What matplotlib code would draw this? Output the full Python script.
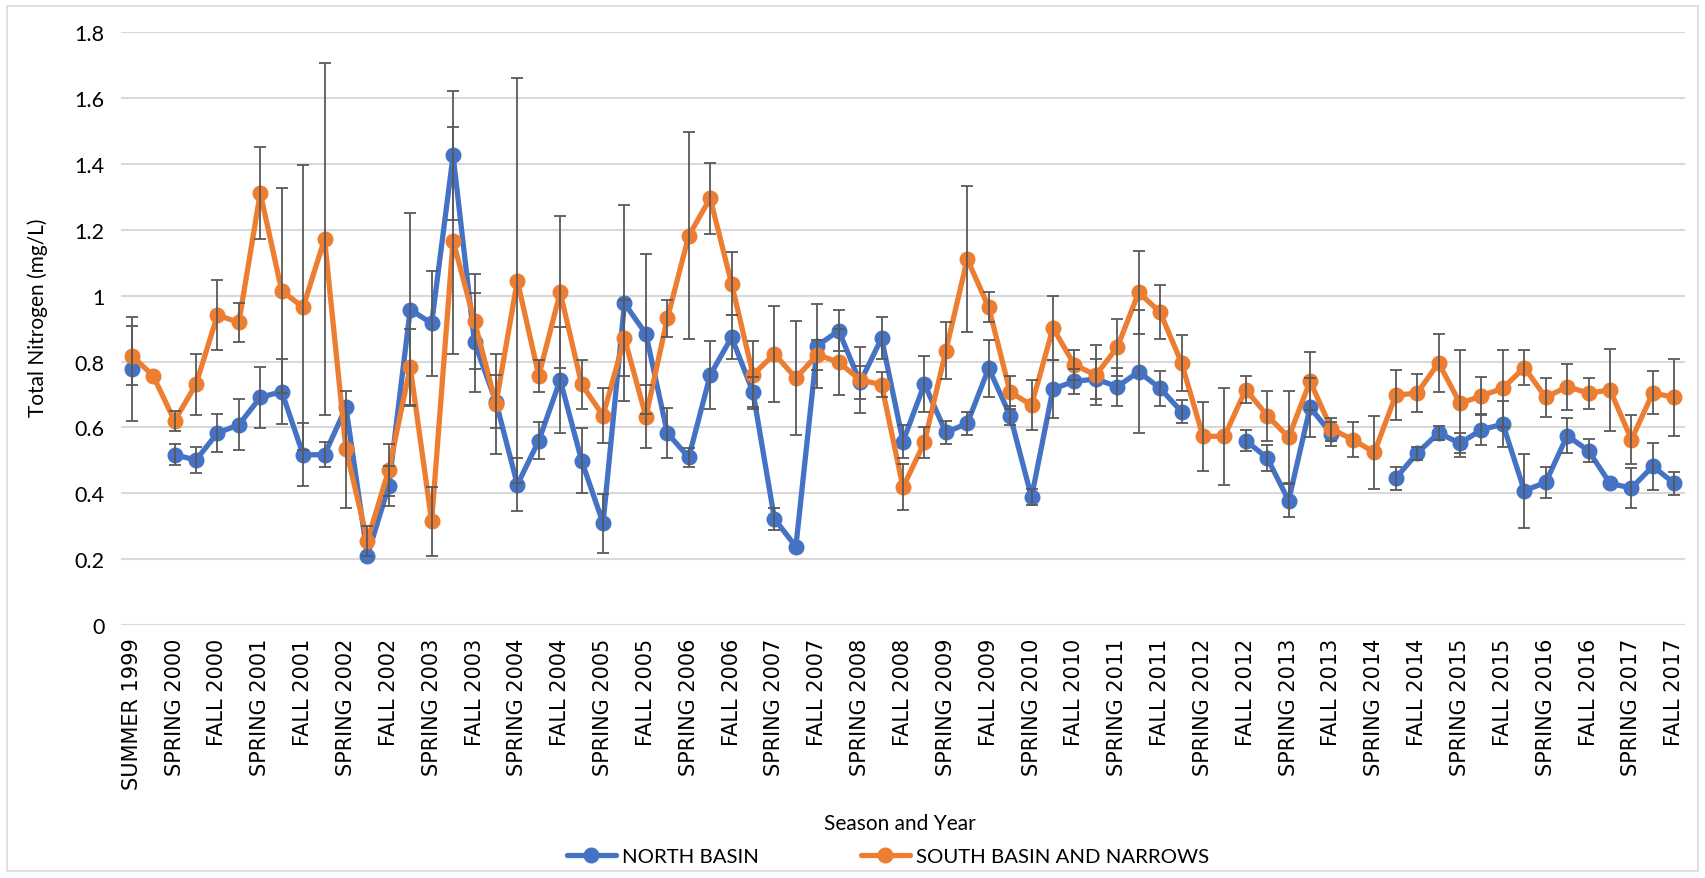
import numpy as np
import matplotlib
matplotlib.use('Agg')
from matplotlib import pyplot as plt
from matplotlib.patches import Rectangle

seasons = [
    'SUMMER 1999', 'FALL 1999',
    'SPRING 2000', 'SUMMER 2000', 'FALL 2000', 'WINTER 2000',
    'SPRING 2001', 'SUMMER 2001', 'FALL 2001', 'WINTER 2001',
    'SPRING 2002', 'SUMMER 2002', 'FALL 2002', 'WINTER 2002',
    'SPRING 2003', 'SUMMER 2003', 'FALL 2003', 'WINTER 2003',
    'SPRING 2004', 'SUMMER 2004', 'FALL 2004', 'WINTER 2004',
    'SPRING 2005', 'SUMMER 2005', 'FALL 2005', 'WINTER 2005',
    'SPRING 2006', 'SUMMER 2006', 'FALL 2006', 'WINTER 2006',
    'SPRING 2007', 'SUMMER 2007', 'FALL 2007', 'WINTER 2007',
    'SPRING 2008', 'SUMMER 2008', 'FALL 2008', 'WINTER 2008',
    'SPRING 2009', 'SUMMER 2009', 'FALL 2009', 'WINTER 2009',
    'SPRING 2010', 'SUMMER 2010', 'FALL 2010', 'WINTER 2010',
    'SPRING 2011', 'SUMMER 2011', 'FALL 2011', 'WINTER 2011',
    'SPRING 2012', 'SUMMER 2012', 'FALL 2012', 'WINTER 2012',
    'SPRING 2013', 'SUMMER 2013', 'FALL 2013', 'WINTER 2013',
    'SPRING 2014', 'SUMMER 2014', 'FALL 2014', 'WINTER 2014',
    'SPRING 2015', 'SUMMER 2015', 'FALL 2015', 'WINTER 2015',
    'SPRING 2016', 'SUMMER 2016', 'FALL 2016', 'WINTER 2016',
    'SPRING 2017', 'SUMMER 2017', 'FALL 2017',
]

nan = np.nan
north = [0.777, nan, 0.517, 0.501, 0.583, 0.608, 0.691, 0.709, 0.517, 0.517,
         0.661, 0.211, 0.423, 0.958, 0.916, 1.426, 0.858, 0.678, 0.426, 0.560,
         0.744, 0.499, 0.309, 0.977, 0.884, 0.583, 0.509, 0.759, 0.874, 0.707,
         0.322, 0.238, 0.848, 0.894, 0.737, 0.871, 0.557, 0.732, 0.585, 0.612,
         0.780, 0.636, 0.388, 0.717, 0.740, 0.747, 0.724, 0.769, 0.719, 0.648,
         nan, nan, 0.560, 0.507, 0.378, 0.661, 0.580, nan, nan, 0.446,
         0.522, 0.583, 0.552, 0.593, 0.610, 0.408, 0.433, 0.575, 0.529, 0.430,
         0.416, 0.482, 0.430]
north_err = [0.158, 0, 0.032, 0.040, 0.058, 0.078, 0.094, 0.100, 0.096, 0.038,
             0, 0, 0.061, 0.292, 0.160, 0.197, 0.150, 0.080, 0.080, 0.056,
             0.160, 0.098, 0.089, 0.298, 0.242, 0.075, 0.030, 0.103, 0.066, 0.046,
             0.034, 0, 0.127, 0.062, 0.050, 0.063, 0.050, 0.086, 0.035, 0.035,
             0.087, 0.030, 0.025, 0.089, 0.038, 0.060, 0.058, 0.187, 0.053, 0.035,
             0, 0, 0.033, 0.040, 0.050, 0.090, 0.035, 0, 0, 0.035,
             0.020, 0.022, 0.030, 0.047, 0.070, 0.112, 0.047, 0.054, 0.035, 0,
             0.060, 0.071, 0.035]

south = [0.818, 0.757, 0.620, 0.731, 0.941, 0.919, 1.312, 1.015, 0.965, 1.172,
         0.534, 0.256, 0.471, 0.783, 0.315, 1.167, 0.922, 0.671, 1.046, 0.757,
         1.010, 0.731, 0.636, 0.871, 0.633, 0.931, 1.182, 1.296, 1.036, 0.760,
         0.823, 0.750, 0.821, 0.798, 0.744, 0.730, 0.418, 0.555, 0.833, 1.111,
         0.965, 0.707, 0.668, 0.902, 0.790, 0.759, 0.843, 1.010, 0.950, 0.796,
         0.573, 0.573, 0.715, 0.636, 0.570, 0.740, 0.595, 0.563, 0.524, 0.698,
         0.704, 0.796, 0.673, 0.696, 0.719, 0.782, 0.691, 0.724, 0.704, 0.714,
         0.563, 0.705, 0.691]
south_err = [0.090, 0, 0.030, 0.092, 0.106, 0.059, 0.139, 0.311, 0.433, 0.535,
             0.178, 0.046, 0.079, 0.116, 0.104, 0.344, 0.144, 0.153, 0.615, 0.048,
             0.231, 0.074, 0.083, 0.116, 0.096, 0.056, 0.314, 0.108, 0.096, 0.103,
             0.147, 0.173, 0.046, 0.100, 0.100, 0.037, 0.070, 0.047, 0.086, 0.221,
             0.045, 0.050, 0.076, 0.098, 0.046, 0.090, 0.086, 0.127, 0.082, 0.086,
             0.105, 0.148, 0.040, 0.076, 0.140, 0.088, 0.035, 0.054, 0.110, 0.076,
             0.058, 0.088, 0.163, 0.057, 0.117, 0.053, 0.060, 0.070, 0.047, 0.125,
             0.075, 0.065, 0.118]

BLUE = '#4472C4'
ORANGE = '#ED7D31'
ERR = '#595959'
GRID = '#D9D9D9'

fig = plt.figure(figsize=(17.05, 8.79), dpi=100)
ax = fig.add_axes([121 / 1705, 1 - 626 / 879, 1564 / 1705, 592.7 / 879])

x = np.arange(len(seasons))
series = [(north, north_err, BLUE, 'NORTH BASIN'),
          (south, south_err, ORANGE, 'SOUTH BASIN AND NARROWS')]

handles = []
for vals, errs, col, name in series:
    v = np.array(vals, dtype=float)
    e = np.array(errs, dtype=float)
    h, = ax.plot(x, v, color=col, lw=3.8, marker='o', ms=10.5,
                 solid_capstyle='round', label=name, zorder=2)
    handles.append(h)
    # only points that actually have an error bar
    m = (e > 0) & ~np.isnan(v)
    ax.errorbar(x[m], v[m], yerr=e[m], fmt='none', ecolor=ERR,
                elinewidth=1.3, capsize=4.3, capthick=1.3, zorder=3)

ax.set_xlim(-0.5, len(seasons) - 0.5)
ax.set_ylim(0, 1.8)
ax.set_yticks(np.arange(0, 1.81, 0.2))
ax.set_yticklabels(['0', '0.2', '0.4', '0.6', '0.8', '1', '1.2', '1.4', '1.6', '1.8'],
                   family=['Lato', 'DejaVu Sans'], fontsize=15.5)
ax.set_xticks(x[::2])
ax.set_xticklabels(seasons[::2], rotation=90, family='DejaVu Sans',
                   fontsize=15, va='top')
ax.tick_params(axis='y', length=0, pad=12)
ax.tick_params(axis='x', length=0, pad=9)
ax.yaxis.grid(True, color=GRID, lw=1.5)
ax.set_axisbelow(True)
for s in ax.spines.values():
    s.set_visible(False)

fig.text(38 / 1705, 1 - 318 / 879, 'Total Nitrogen (mg/L)', rotation=90,
         ha='center', va='center', family=['Lato', 'DejaVu Sans'], fontsize=15)
fig.text(900 / 1705, 1 - 824 / 879, 'Season and Year', ha='center', va='center',
         family=['Lato', 'DejaVu Sans'], fontsize=15)
fig.legend(handles=handles, loc='center', bbox_to_anchor=(888 / 1705, 1 - 857 / 879),
           ncol=2, frameon=False, prop={'family': 'Lato', 'size': 14.7},
           handlelength=2.4, columnspacing=5, handletextpad=0.3)

fig.patches.append(Rectangle((7 / 1705, 7 / 879), 1 - 14 / 1705, 1 - 14 / 879,
                             transform=fig.transFigure, fill=False,
                             edgecolor=GRID, lw=1.2))

fig.savefig('out.png', dpi=100)
